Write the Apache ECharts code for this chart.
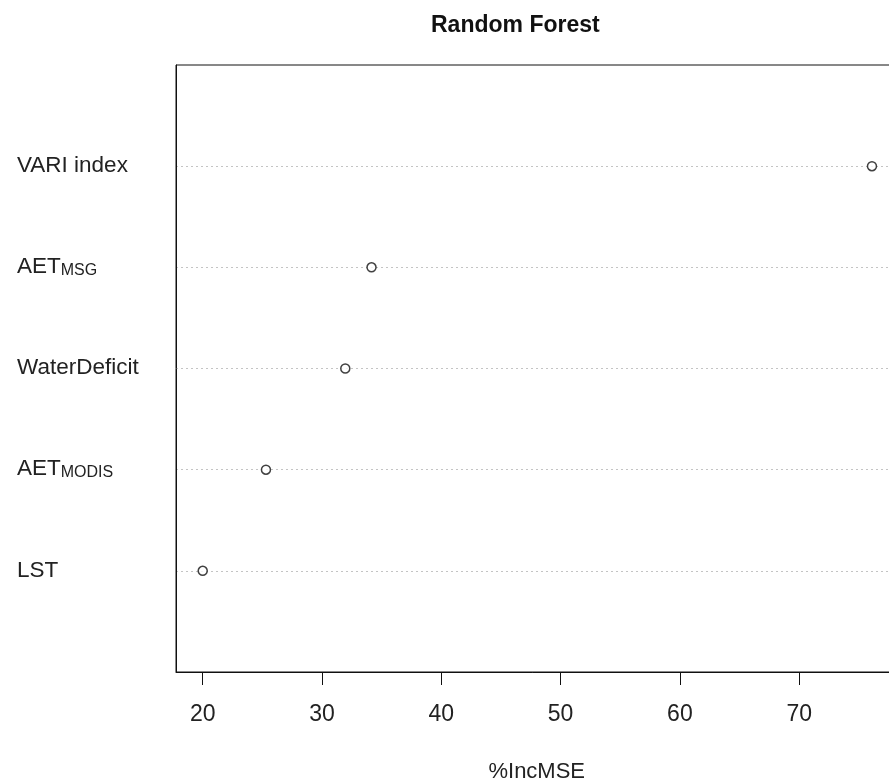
<!DOCTYPE html>
<html>
<head>
<meta charset="utf-8">
<script src="https://cdn.jsdelivr.net/npm/echarts@6/dist/echarts.min.js"></script>
<style>
html,body{margin:0;padding:0;background:#fff;}
#chart{width:889px;height:783px;}
</style>
</head>
<body>
<div id="chart"></div>
<script>
// Variables, bottom to top (as in the dot chart)
var labelMain = ['LST', 'AET', 'WaterDeficit', 'AET', 'VARI index'];
var labelSub  = ['',    'MODIS', '',          'MSG', ''];
var incMSE    = [20.0,  25.3,  31.95,         34.15, 76.1];
var xTicks    = [20, 30, 40, 50, 60, 70];
var xMin = 17.76, xMax = 78.24;

var names = labelMain.map(function (m, i) { return m + labelSub[i]; });
var yCats = [''].concat(names).concat(['']);
var fmtMap = {};
names.forEach(function (n, i) {
  fmtMap[n] = labelSub[i] ? '{b|' + labelMain[i] + '}{s|' + labelSub[i] + '}' : '{b|' + labelMain[i] + '}';
});

var chart = echarts.init(document.getElementById('chart'));
chart.setOption({
  animation: false,
  backgroundColor: '#fff',
  title: {
    text: 'Random Forest',
    left: 426,
    top: 9,
    textStyle: { fontFamily: 'Liberation Sans, Arial', fontWeight: 'bold', fontSize: 23, color: '#111' }
  },
  grid: {
    left: 176, right: -8.5, top: 65, bottom: 111,
    containLabel: false,
    outerBoundsMode: 'none',
    show: true, borderColor: '#111', borderWidth: 1, backgroundColor: 'transparent'
  },
  xAxis: {
    type: 'value',
    min: xMin, max: xMax,
    name: '%IncMSE',
    nameLocation: 'middle',
    nameGap: 89,
    nameTextStyle: { fontFamily: 'Liberation Sans, Arial', fontSize: 22, color: '#222' },
    axisLine: { show: true, lineStyle: { color: '#111', width: 1 } },
    axisTick: { show: true, length: 13, customValues: xTicks, lineStyle: { color: '#111', width: 1 } },
    axisLabel: {
      customValues: xTicks,
      margin: 31,
      fontFamily: 'Liberation Sans, Arial', fontSize: 23, color: '#222'
    },
    splitLine: { show: false }
  },
  yAxis: {
    type: 'category',
    data: yCats,
    boundaryGap: false,
    axisLine: { show: true, lineStyle: { color: '#111', width: 1 } },
    axisTick: { show: false },
    axisLabel: {
      align: 'left',
      margin: 159,
      interval: 0,
      formatter: function (v) { return v ? fmtMap[v] : ''; },
      rich: {
        b: { fontFamily: 'Liberation Sans, Arial', fontSize: 22.5, lineHeight: 22, color: '#222', verticalAlign: 'bottom' },
        s: { fontFamily: 'Liberation Sans, Arial', fontSize: 16, lineHeight: 16, color: '#222', verticalAlign: 'bottom' }
      }
    },
    splitLine: {
      show: true,
      interval: function (index) { return index > 0 && index < yCats.length - 1; },
      lineStyle: { color: '#c4c4c4', type: [2, 3], width: 1 }
    }
  },
  series: [{
    type: 'scatter',
    symbol: 'circle',
    symbolSize: 9,
    itemStyle: { color: '#fff', borderColor: '#111', borderWidth: 1.5 },
    data: incMSE.map(function (v, i) { return [v, names[i]]; }),
    z: 5
  }]
});
</script>
</body>
</html>
